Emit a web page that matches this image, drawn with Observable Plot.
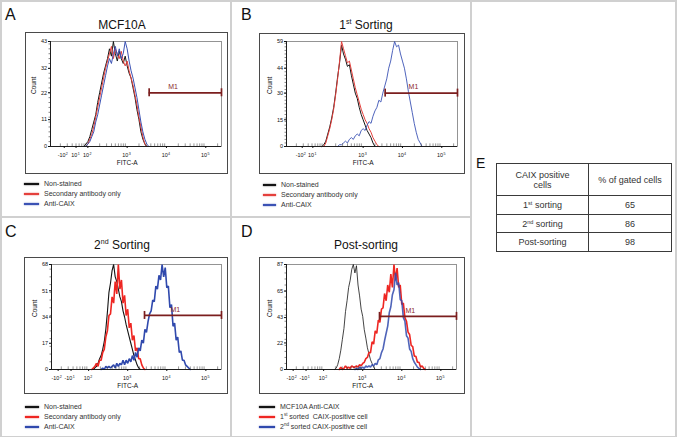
<!DOCTYPE html>
<html><head><meta charset="utf-8">
<script src="https://cdn.jsdelivr.net/npm/d3@7"></script>
<script src="https://cdn.jsdelivr.net/npm/@observablehq/plot@0.6"></script>
<style>
body{margin:0;background:#fff}
#root{position:relative;width:677px;height:437px;overflow:hidden;background:#fff;font-family:"Liberation Sans",Arial,sans-serif;color:#222}
.sep{position:absolute;background:#d0d0d0}
.lbl{position:absolute;color:#111;white-space:nowrap}
.ttl{position:absolute;font-size:12px;line-height:12px;color:#111;transform:translateX(-50%);white-space:nowrap}
.ttl sup{font-size:7px;vertical-align:5px;line-height:0}
.panel{position:absolute}
.panel svg{display:block;outline:1px solid #4a4a4a;outline-offset:-1px}
.leg{position:absolute;font-size:7px;line-height:10px;color:#333}
.leg .row{display:flex;align-items:center;white-space:nowrap;height:10px}
.leg .sw{display:inline-block;height:2px;margin-right:5px}
.leg sup{font-size:4.5px;vertical-align:3px;line-height:0}
#tbl{position:absolute;left:496px;top:163px;border-collapse:collapse;font-size:9px;color:#333}
#tbl td{border:1px solid #3a3a3a;text-align:center;padding:0;line-height:10px}
#tbl sup{font-size:5.5px;vertical-align:3px;line-height:0}
</style></head>
<body><div id="root"></div>
<script>
// ---------- data ----------
const xDomain = [1.05, 5.40];           // display units (decades of FITC-A)
const fitcLabel = "FITC-A";
const countLabel = "Count";

// x tick labels: base and superscript exponent
const xPosA = [1.40, 1.70, 2, 3, 4, 5];
const xBaseA = ["-10", "10", "10", "10", "10", "10"];
const xExpA  = ["2", "1", "2", "3", "4", "5"];
const xPosB = [1.45, 1.72, 3, 4, 5];
const xBaseB = ["-10", "10", "10", "10", "10"];
const xExpB  = ["2", "1", "3", "4", "5"];
const xPosCD = [1.22, 1.55, 2, 3, 4, 5];
const xBaseCD = ["-10", "-10", "10", "10", "10", "10"];
const xExpCD  = ["2", "1", "2", "3", "4", "5"];

const yTicksA = [0, 11, 22, 32, 43];
const yTicksB = [0, 15, 30, 44, 59];
const yTicksC = [0, 17, 34, 51, 68];
const yTicksD = [0, 22, 43, 65, 87];

const panelTitles = ["MCF10A", "1<sup>st</sup> Sorting", "2<sup>nd</sup> Sorting", "Post-sorting"];
const panelLetters = ["A", "B", "C", "D"];

// histogram bins: start (decade units), step, counts
const stepAB = 0.05, stepCD = 0.04;
const aStart = [1.90, 1.90, 1.90];
const aNonStained = [0,1,2,4,7,10,13,18,22,26,30,33,36,40,37,43,38,35,39,36,34,37,33,30,28,24,20,15,11,6,3,1,0];
const aSecondary  = [0,0,1,3,5,8,12,16,20,24,28,32,35,38,41,36,40,38,36,39,35,33,35,31,28,25,21,17,12,8,4,1,0];
const aAntiCAIX   = [0,0,1,2,4,6,10,13,17,21,25,29,33,36,34,38,41,37,40,36,38,43,40,35,31,28,24,20,15,10,6,3,1,0];

const bStart = [1.95, 1.95, 2.35];
const bNonStained = [0,1,3,7,11,16,22,30,39,47,57,52,49,45,46,40,35,30,27,22,18,15,12,9,7,5,2,0];
const bSecondary  = [0,0,2,6,10,15,21,29,38,48,59,55,51,47,48,43,38,33,29,25,21,18,15,13,10,8,5,3,1,0];
const bAntiCAIX   = [0,1,1,2,3,2,4,5,4,6,7,6,9,10,9,12,14,13,17,20,22,26,25,30,34,38,44,48,54,59,56,57,52,48,44,38,31,25,19,13,8,4,2,0];

const cStart = [2.12, 2.08, 2.32];
const cNonStained = [0,1,2,4,7,9,13,18,26,37,50,56,64,68,60,57,52,47,44,38,34,29,25,21,17,13,9,6,3,1,0];
const cSecondary  = [0,1,2,4,2,6,6,11,13,21,25,35,36,47,43,57,49,68,52,58,43,48,35,39,27,30,19,22,12,14,7,7,3,1,0];
const cAntiCAIX   = [0,1,0,2,1,2,1,2,3,1,4,2,4,3,6,3,6,4,7,5,9,6,11,8,14,12,19,17,26,24,31,36,38,45,44,54,52,61,58,68,60,66,53,54,40,42,28,30,19,21,11,12,6,6,3,2,1,0];

const dStart = [2.28, 2.40, 2.80];
const dMCF10A     = [0,1,4,9,16,25,34,48,57,68,74,83,87,80,86,70,61,50,44,33,26,18,13,8,5,2,0];
const dFirstSort  = [0,2,0,1,3,1,2,1,3,2,2,3,2,4,3,5,6,9,10,14,14,23,21,32,30,41,39,50,51,63,57,70,64,79,68,87,74,84,68,70,54,55,43,40,31,29,20,19,11,11,6,6,2,3,1,0];
const dSecondSort = [0,1,0,2,1,2,1,3,2,3,2,4,3,5,4,8,9,14,17,24,30,36,47,52,62,66,80,70,72,58,57,43,40,28,26,17,15,9,6,4,2,1,0];

// M1 gate
const gateStart = [3.56, 3.56, 3.43, 3.43];
const gateEnd = 5.40;
const gateCount = [22, 30, 35, 44];
const gateLabelX = [4.17, 4.28, 4.22, 4.22];
const gateName = "M1";

const legendABC = ["Non-stained", "Secondary antibody only", "Anti-CAIX"];
const legendD = ["MCF10A Anti-CAIX", "1<sup>st</sup> sorted&nbsp; CAIX-positive cell", "2<sup>nd</sup> sorted CAIX-positive cell"];

const tableHead = ["CAIX positive<br>cells", "% of gated cells"];
const tableRowLabels = ["1<sup>st</sup> sorting", "2<sup>nd</sup> sorting", "Post-sorting"];
const tableValues = [65, 86, 98];

// ---------- styles / layout ----------
const colBlack = "#141414", colRed = "#ee2622", colBlue = "#3049ad", gateColor = "#7b1e1e";
const root = document.getElementById("root");

function addDiv(cls, style, html) {
  const d = document.createElement("div");
  d.className = cls; d.style.cssText = style; if (html != null) d.innerHTML = html;
  root.appendChild(d); return d;
}
// separators / outer frame
addDiv("sep", "left:0;top:0;width:677px;height:1.5px");
addDiv("sep", "left:0;top:435.5px;width:677px;height:1.5px");
addDiv("sep", "left:0;top:0;width:1.5px;height:437px");
addDiv("sep", "left:675px;top:0;width:1.5px;height:437px");
addDiv("sep", "left:230px;top:0;width:1.5px;height:437px");
addDiv("sep", "left:470px;top:0;width:1.5px;height:437px");
addDiv("sep", "left:0;top:216px;width:471px;height:1.5px");

const xMinor = d3.range(1, 6).flatMap(d => d3.range(2, 10).map(k => d + Math.log10(k)))
  .filter(u => u > xDomain[0] + 0.02 && u < xDomain[1]);

const specs = [
  {box:[25,32,203,142], m:[9,7,28,25], yMax:43, yTicks:yTicksA, xPos:xPosA, xBase:xBaseA, xExp:xExpA, step:stepAB,
   curves:[{s:aStart[0],c:aNonStained,col:colBlack,w:1},{s:aStart[1],c:aSecondary,col:"#e4403c",w:1},{s:aStart[2],c:aAntiCAIX,col:"#3b52b4",w:1}],
   title:[122,19], letter:[5,6.5], legend:[24,179,15], legendText:legendABC},
  {box:[259,33,206,141], m:[8,8,28,27], yMax:59, yTicks:yTicksB, xPos:xPosB, xBase:xBaseB, xExp:xExpB, step:stepAB,
   curves:[{s:bStart[0],c:bNonStained,col:colBlack,w:1},{s:bStart[1],c:bSecondary,col:"#e4403c",w:1},{s:bStart[2],c:bAntiCAIX,col:"#3b52b4",w:0.9}],
   title:[366,19], letter:[241,6.5], legend:[263,180,13], legendText:legendABC},
  {box:[24,257,204,137], m:[7,7,25,27], yMax:68, yTicks:yTicksC, xPos:xPosCD, xBase:xBaseCD, xExp:xExpCD, step:stepCD,
   curves:[{s:cStart[0],c:cNonStained,col:colBlack,w:1.1},{s:cStart[1],c:cSecondary,col:colRed,w:1.6},{s:cStart[2],c:cAntiCAIX,col:colBlue,w:1.6}],
   title:[122,239], letter:[5,223.5], legend:[25,402,14], legendText:legendABC},
  {box:[259,257,206,137], m:[7,9,25,27], yMax:87, yTicks:yTicksD, xPos:xPosCD, xBase:xBaseCD, xExp:xExpCD, step:stepCD,
   curves:[{s:dStart[0],c:dMCF10A,col:colBlack,w:0.8},{s:dStart[1],c:dFirstSort,col:colRed,w:1.6},{s:dStart[2],c:dSecondSort,col:colBlue,w:1.6,o:0.85}],
   title:[366,239], letter:[241,223.5], legend:[259,402,16], legendText:legendD}
];

specs.forEach((s, k) => {
  const [left, top, width, height] = s.box;
  const [mt, mr, mb, ml] = s.m;
  const cap = s.yMax * 4 / (height - mt - mb);
  const gy = gateCount[k];
  const svg = Plot.plot({
    width, height, marginTop: mt, marginRight: mr, marginBottom: mb, marginLeft: ml,
    style: {fontFamily: "Liberation Sans, Arial, sans-serif", background: "transparent", color: "#111"},
    x: {domain: xDomain},
    y: {domain: [0, s.yMax]},
    marks: [
      Plot.frame({stroke: "#7a7a7a", strokeWidth: 0.8}),
      ...s.curves.map(c => Plot.line(c.c, {x: (d, i) => c.s + i * s.step, y: d => d,
        stroke: c.col, strokeWidth: c.w, strokeOpacity: c.o ?? 1, strokeLinejoin: "miter"})),
      Plot.ruleY([0], {stroke: "#111", strokeWidth: 0.9}),
      Plot.ruleX([xDomain[0]], {stroke: "#111", strokeWidth: 0.9}),
      Plot.ruleX(xMinor, {x: d => d, y1: () => 0, y2: () => s.yMax * 0.025, stroke: "#333", strokeWidth: 0.5}),
      Plot.axisY(d3.ticks(0, s.yMax, 20), {tickSize: 1.5, tickFormat: () => "", label: null, strokeWidth: 0.5}),
      Plot.axisY(s.yTicks, {tickSize: 2, tickPadding: 1.5, fontSize: 5.5, label: null, tickFormat: d => String(d)}),
      Plot.axisX(s.xPos, {tickSize: 2, tickFormat: () => "", label: null}),
      Plot.text(s.xPos, {x: d => d, frameAnchor: "bottom", dy: 10.5, dx: 1.2, text: (d, i) => s.xBase[i], textAnchor: "end", fontSize: 5.4}),
      Plot.text(s.xPos, {x: d => d, frameAnchor: "bottom", dy: 8.3, dx: 1.6, text: (d, i) => s.xExp[i], textAnchor: "start", fontSize: 3.6}),
      Plot.text([countLabel], {frameAnchor: "left", rotate: -90, dx: -17, fontSize: 6.5}),
      Plot.text([fitcLabel], {x: () => 3, frameAnchor: "bottom", dy: 18, fontSize: 6.5}),
      Plot.ruleY([gy], {x1: () => gateStart[k], x2: () => gateEnd, y: d => d, stroke: gateColor, strokeWidth: 1.7}),
      Plot.ruleX([gateStart[k], gateEnd], {x: d => d, y1: () => gy - cap, y2: () => gy + cap, stroke: gateColor, strokeWidth: 1.7}),
      Plot.text([gateName], {x: () => gateLabelX[k], y: () => gy, dy: -6, fill: "#8b2a2a", fontSize: 7})
    ]
  });
  const holder = addDiv("panel", `left:${left}px;top:${top}px;width:${width}px;height:${height}px`);
  holder.appendChild(svg);

  addDiv("ttl", `left:${s.title[0]}px;top:${s.title[1]}px`, panelTitles[k]);
  addDiv("lbl", `left:${s.letter[0]}px;top:${s.letter[1]}px;font-size:16px;line-height:16px`, panelLetters[k]);

  const leg = addDiv("leg", `left:${s.legend[0]}px;top:${s.legend[1]}px`);
  s.legendText.forEach((t, i) => {
    const row = document.createElement("div"); row.className = "row";
    const sw = document.createElement("span"); sw.className = "sw";
    const col = s.curves[i].col;
    sw.style.cssText = `width:${s.legend[2]}px;background:${col};box-shadow:0 0 1.5px ${col}`;
    row.appendChild(sw);
    const tx = document.createElement("span"); tx.innerHTML = t; row.appendChild(tx);
    leg.appendChild(row);
  });
});

// ---------- panel E table ----------
addDiv("lbl", "left:476px;top:156px;font-size:14px;line-height:14px", "E");
const tbl = document.createElement("table"); tbl.id = "tbl";
const rowsH = [32, 19, 18, 19];
const hr = tbl.insertRow();
tableHead.forEach((h, j) => { const c = hr.insertCell(); c.innerHTML = h; c.style.width = (j ? 82 : 91) + "px"; c.style.height = (rowsH[0] - 1) + "px"; });
tableRowLabels.forEach((lab, i) => {
  const r = tbl.insertRow();
  const c1 = r.insertCell(); c1.innerHTML = lab; c1.style.height = (rowsH[i + 1] - 1) + "px";
  const c2 = r.insertCell(); c2.textContent = tableValues[i];
});
root.appendChild(tbl);
</script>
</body></html>
